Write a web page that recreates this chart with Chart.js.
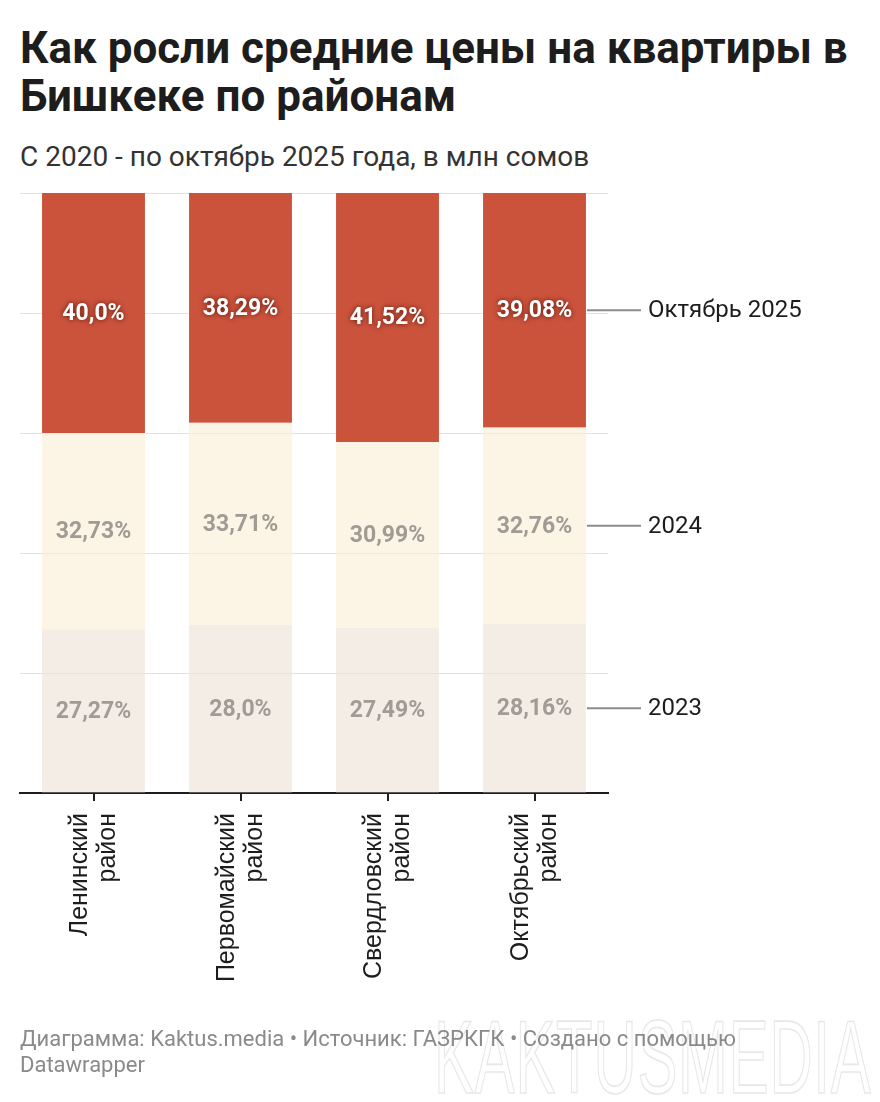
<!DOCTYPE html>
<html>
<head>
<meta charset="utf-8">
<script src="https://cdn.jsdelivr.net/npm/chart.js@4.4.1/dist/chart.umd.min.js"></script>
<style>
  html, body { margin:0; padding:0; background:#fff; }
  body { width:880px; height:1102px; position:relative; overflow:hidden; font-family: Roboto, "Noto Sans", sans-serif; }
  #title { position:absolute; left:20px; top:24px; width:860px; font-weight:700; font-size:44px; line-height:48px; color:#1d1d1d; letter-spacing:0px; white-space:nowrap; }
  #subtitle { position:absolute; left:20px; top:140px; font-size:28px; line-height:33px; color:#333; }
  #wrap { position:absolute; left:0; top:0; width:880px; height:1000px; }
  #footer { position:absolute; left:20px; top:1026px; font-size:22px; line-height:26px; color:#8a8a8a; width:750px; z-index:2; }
  #wm { position:absolute; left:434px; top:1005px; font-family:"Liberation Sans",sans-serif; font-size:72px; line-height:1; color:transparent; -webkit-text-stroke:1.2px #e8e8e8; transform:scale(0.83,1.45); transform-origin:left top; letter-spacing:1px; z-index:1; white-space:nowrap; }
</style>
</head>
<body>
<div id="title">Как росли средние цены на квартиры в<br>Бишкеке по районам</div>
<div id="subtitle">С 2020 - по октябрь 2025 года, в млн сомов</div>
<div id="wrap"><canvas id="c"></canvas></div>
<div id="wm">KAKTUSMEDIA</div>
<div id="footer">Диаграмма: Kaktus.media • Источник: ГАЗРКГК • Создано с помощью Datawrapper</div>
<script>
const categories = [["Ленинский", "район"], ["Первомайский", "район"], ["Свердловский", "район"], ["Октябрьский", "район"]];
const seriesNames = ["2023", "2024", "Октябрь 2025"];
const values2023 = [27.27, 28.0, 27.49, 28.16];
const values2024 = [32.73, 33.71, 30.99, 32.76];
const valuesOct2025 = [40.0, 38.29, 41.52, 39.08];
const labels2023 = ["27,27%", "28,0%", "27,49%", "28,16%"];
const labels2024 = ["32,73%", "33,71%", "30,99%", "32,76%"];
const labelsOct2025 = ["40,0%", "38,29%", "41,52%", "39,08%"];
const yTicks = [0, 20, 40, 60, 80, 100];

const valueLabels = [labels2023, labels2024, labelsOct2025];

const labelPlugin = {
  id: 'segLabels',
  afterDatasetsDraw(chart) {
    const ctx = chart.ctx;
    ctx.save();
    ctx.textBaseline = 'middle';
    chart.data.datasets.forEach((ds, di) => {
      const meta = chart.getDatasetMeta(di);
      ctx.textAlign = 'center';
      ctx.font = '700 23px Roboto';
      meta.data.forEach((el, i) => {
        const cy = (el.y + el.base) / 2;
        if (di === 2) {
          ctx.shadowColor = 'rgba(70,10,0,0.85)';
          ctx.shadowBlur = 5;
          ctx.fillStyle = '#ffffff';
        } else {
          ctx.shadowColor = 'transparent';
          ctx.shadowBlur = 0;
          ctx.fillStyle = '#a09b94';
        }
        ctx.fillText(valueLabels[di][i], el.x, cy + 1);
      });
      ctx.shadowColor = 'transparent';
      ctx.shadowBlur = 0;
      const last = meta.data[meta.data.length - 1];
      const cy = (last.y + last.base) / 2;
      const x0 = last.x + last.width / 2 + 1;
      ctx.strokeStyle = '#8c8c8c';
      ctx.lineWidth = 2;
      ctx.beginPath();
      ctx.moveTo(x0, cy);
      ctx.lineTo(x0 + 54, cy);
      ctx.stroke();
      ctx.textAlign = 'left';
      ctx.font = '400 24px Roboto';
      ctx.fillStyle = '#1d1d1d';
      ctx.fillText(seriesNames[di], x0 + 61, cy + 1);
    });
    ctx.restore();
  }
};

new Chart(document.getElementById('c'), {
  type: 'bar',
  data: {
    labels: categories,
    datasets: [
      { label: seriesNames[0], data: values2023, backgroundColor: 'rgba(237,225,213,0.6)' },
      { label: seriesNames[1], data: values2024, backgroundColor: 'rgba(250,237,210,0.6)' },
      { label: seriesNames[2], data: valuesOct2025, backgroundColor: '#cb533c' }
    ]
  },
  options: {
    responsive: true,
    maintainAspectRatio: false,
    animation: false,
    layout: { padding: { top: 193, left: 20, right: 272, bottom: 0 } },
    plugins: { legend: { display: false }, tooltip: { enabled: false }, title: { display: false } },
    datasets: { bar: { categoryPercentage: 1.0, barPercentage: 0.7, borderWidth: 0 } },
    scales: {
      x: {
        stacked: true,
        border: { display: true, color: '#1d1d1d', width: 2 },
        grid: { display: true, drawOnChartArea: false, drawTicks: true, tickLength: 8, color: '#1d1d1d', lineWidth: 2, offset: false },
        ticks: {
          minRotation: 90, maxRotation: 90, padding: 12, labelOffset: -13,
          color: '#1d1d1d',
          font: { family: '"Liberation Sans", Arial, sans-serif', size: 25, lineHeight: 1.12 }
        },
        afterFit(scale) { scale.height = 207; }
      },
      y: {
        stacked: true,
        min: 0, max: 100,
        afterBuildTicks(scale) { scale.ticks = yTicks.map(v => ({ value: v })); },
        border: { display: false },
        grid: { color: '#e3e3e3', lineWidth: 1, drawTicks: false },
        ticks: { display: false },
        afterFit(scale) { scale.width = 0; }
      }
    }
  },
  plugins: [labelPlugin]
});
</script>
</body>
</html>
